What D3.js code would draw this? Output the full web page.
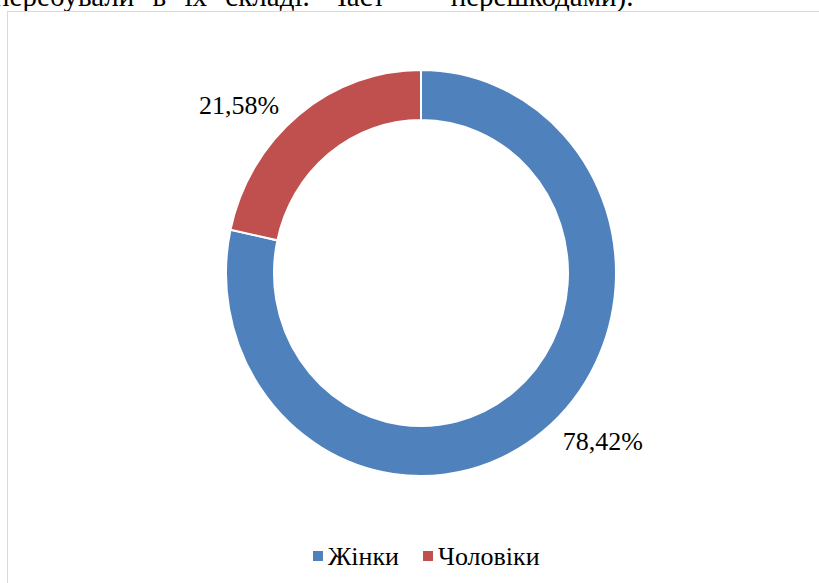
<!DOCTYPE html>
<html>
<head>
<meta charset="utf-8">
<script src="https://cdn.jsdelivr.net/npm/d3@7"></script>
<style>
  body { margin: 0; background: #fff; }
</style>
</head>
<body>
<div id="viz"></div>
<script>
// data
const categories = ['Жінки', 'Чоловіки'];
const shares = [78.42, 21.58];
const labels = ['78,42%', '21,58%'];
const colors = ['#4f81bd', '#c0504d'];
const topLine = 'перебували в їх складі. Част — перешкодами).';

const serif = "'Liberation Serif', 'Times New Roman', 'DejaVu Serif', serif";
const width = 819, height = 583;
const svg = d3.select('#viz').append('svg')
  .attr('width', width)
  .attr('height', height)
  .style('font-family', serif);

// cut-off line of justified text above the chart
svg.append('text')
  .attr('x', -6)
  .attr('y', 6)
  .attr('font-family', serif)
  .style('font-size', '29px')
  .style('word-spacing', '11px')
  .text(topLine);

// chart frame
svg.append('rect')
  .attr('x', 7.5)
  .attr('y', 11.5)
  .attr('width', 840)
  .attr('height', 620)
  .style('fill', 'none')
  .style('stroke', '#d9d9d9')
  .style('stroke-width', 1);

const cx = 421, cy = 273;
const outerR = 195, innerR = 147;
const yStretch = 203 / 195; // picture is slightly taller than wide

const data = categories.map((c, i) => ({ name: c, value: shares[i], label: labels[i] }));
const pie = d3.pie().sort(null).value(d => d.value);
const arc = d3.arc().innerRadius(innerR).outerRadius(outerR);
const color = d3.scaleOrdinal().domain(categories).range(colors);

const arcs = pie(data);

svg.append('g')
  .attr('transform', `translate(${cx},${cy}) scale(1,${yStretch})`)
  .selectAll('path')
  .data(arcs)
  .enter().append('path')
  .attr('d', arc)
  .style('fill', d => color(d.data.name))
  .style('stroke', '#fff')
  .style('stroke-width', 2);

// data labels, outside the ring
svg.selectAll('.slice-label')
  .data(arcs)
  .enter().append('text')
  .attr('class', 'slice-label')
  .attr('x', d => {
    const a = (d.startAngle + d.endAngle) / 2;
    return cx + Math.sin(a) * 290;
  })
  .attr('y', d => {
    const a = (d.startAngle + d.endAngle) / 2;
    return cy - Math.cos(a) * 216;
  })
  .attr('dy', '0.35em')
  .attr('text-anchor', 'middle')
  .attr('font-family', serif)
  .style('font-size', '26px')
  .text(d => d.data.label);

// legend
const legendX = [313, 423];
const legend = svg.append('g').attr('class', 'legend');
const item = legend.selectAll('.legend-item')
  .data(categories)
  .enter().append('g')
  .attr('class', 'legend-item')
  .attr('transform', (d, i) => `translate(${legendX[i]}, 551)`);

item.append('rect')
  .attr('width', 10)
  .attr('height', 10)
  .style('fill', d => color(d));

item.append('text')
  .attr('x', 15)
  .attr('y', 14)
  .attr('font-family', serif)
  .style('font-size', '26px')
  .text(d => d);
</script>
</body>
</html>
